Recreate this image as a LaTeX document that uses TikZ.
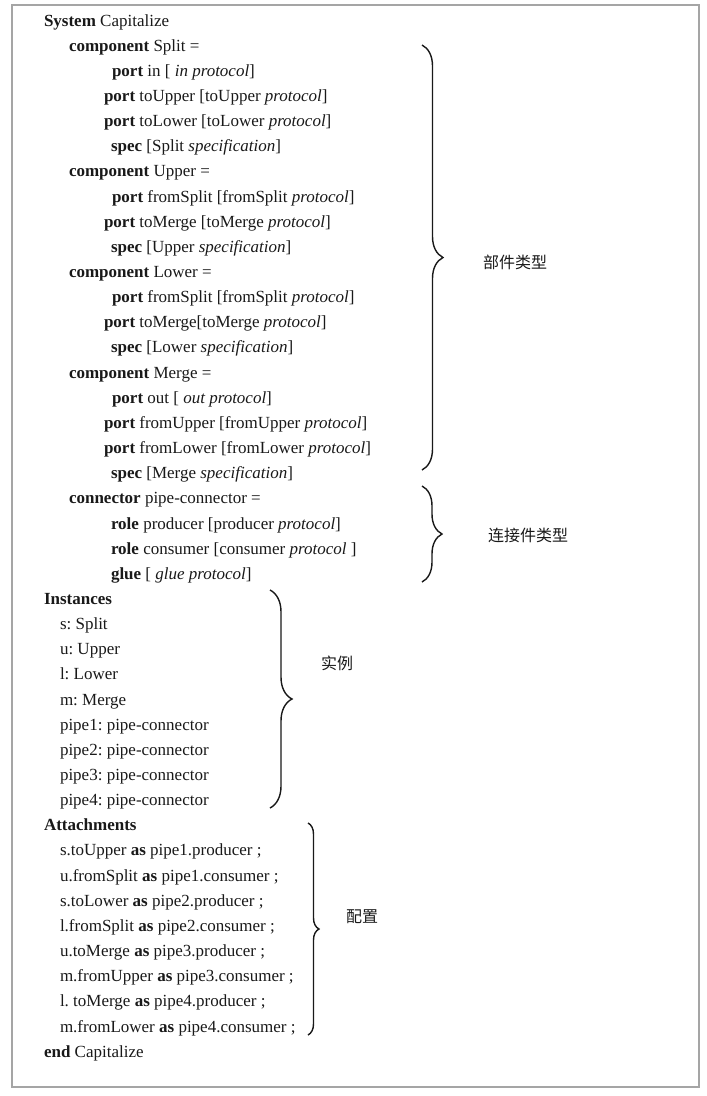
\documentclass[tikz,border=0pt]{standalone}
\usepackage{fontspec}
\setmainfont{Liberation Serif}
\newfontfamily\cjk{Noto Sans CJK SC}
\usetikzlibrary{decorations.pathreplacing}
\definecolor{framegray}{RGB}{165,165,165}
\definecolor{inkblack}{RGB}{25,25,25}
\frenchspacing
\begin{document}
\begin{tikzpicture}[x=1pt,y=-1pt,
  codeline/.style={anchor=base west,inner sep=0pt,outer sep=0pt,text=inkblack,font=\fontsize{17}{20}\selectfont\frenchspacing},
  cjklabel/.style={anchor=center,inner sep=0pt,text=inkblack,font=\cjk\fontsize{16}{18}\selectfont},
  bracepath/.style={draw=inkblack,line width=1.4pt,decorate,decoration={brace,amplitude=#1}},
  frameline/.style={draw=framegray,line width=2pt}]
\useasboundingbox (0,0) rectangle (707,1096);
\draw[frameline] (12,5) rectangle (699,1087);
% lines
\node[codeline] (l0) at (44,26) {\textbf{System} Capitalize};
\node[codeline] (l1) at (69,26+25.15*1) {\textbf{component} Split =};
\node[codeline] (l2) at (112,26+25.15*2) {\textbf{port} in [ \textit{in protocol}]};
\node[codeline] (l3) at (104,26+25.15*3) {\textbf{port} toUpper [toUpper \textit{protocol}]};
\node[codeline] (l4) at (104,26+25.15*4) {\textbf{port} toLower [toLower \textit{protocol}]};
\node[codeline] (l5) at (111,26+25.15*5) {\textbf{spec} [Split \textit{specification}]};
\node[codeline] (l6) at (69,26+25.15*6) {\textbf{component} Upper =};
\node[codeline] (l7) at (112,26+25.15*7) {\textbf{port} fromSplit [fromSplit \textit{protocol}]};
\node[codeline] (l8) at (104,26+25.15*8) {\textbf{port} toMerge [toMerge \textit{protocol}]};
\node[codeline] (l9) at (111,26+25.15*9) {\textbf{spec} [Upper \textit{specification}]};
\node[codeline] (l10) at (69,26+25.15*10) {\textbf{component} Lower =};
\node[codeline] (l11) at (112,26+25.15*11) {\textbf{port} fromSplit [fromSplit \textit{protocol}]};
\node[codeline] (l12) at (104,26+25.15*12) {\textbf{port} toMerge[toMerge \textit{protocol}]};
\node[codeline] (l13) at (111,26+25.15*13) {\textbf{spec} [Lower \textit{specification}]};
\node[codeline] (l14) at (69,26+25.15*14) {\textbf{component} Merge =};
\node[codeline] (l15) at (112,26+25.15*15) {\textbf{port} out [ \textit{out protocol}]};
\node[codeline] (l16) at (104,26+25.15*16) {\textbf{port} fromUpper [fromUpper \textit{protocol}]};
\node[codeline] (l17) at (104,26+25.15*17) {\textbf{port} fromLower [fromLower \textit{protocol}]};
\node[codeline] (l18) at (111,26+25.15*18) {\textbf{spec} [Merge \textit{specification}]};
\node[codeline] (l19) at (69,26+25.15*19) {\textbf{connector} pipe-connector =};
\node[codeline] (l20) at (111,26+25.15*20) {\textbf{role} producer [producer \textit{protocol}]};
\node[codeline] (l21) at (111,26+25.15*21) {\textbf{role} consumer [consumer \textit{protocol} ]};
\node[codeline] (l22) at (111,26+25.15*22) {\textbf{glue} [ \textit{glue protocol}]};
\node[codeline] (l23) at (44,26+25.15*23) {\textbf{Instances}};
\node[codeline] (l24) at (60,26+25.15*24) {s: Split};
\node[codeline] (l25) at (60,26+25.15*25) {u: Upper};
\node[codeline] (l26) at (60,26+25.15*26) {l: Lower};
\node[codeline] (l27) at (60,26+25.15*27) {m: Merge};
\node[codeline] (l28) at (60,26+25.15*28) {pipe1: pipe-connector};
\node[codeline] (l29) at (60,26+25.15*29) {pipe2: pipe-connector};
\node[codeline] (l30) at (60,26+25.15*30) {pipe3: pipe-connector};
\node[codeline] (l31) at (60,26+25.15*31) {pipe4: pipe-connector};
\node[codeline] (l32) at (44,26+25.15*32) {\textbf{Attachments}};
\node[codeline] (l33) at (60,26+25.15*33) {s.toUpper \textbf{as} pipe1.producer ;};
\node[codeline] (l34) at (60,26+25.15*34) {u.fromSplit \textbf{as} pipe1.consumer ;};
\node[codeline] (l35) at (60,26+25.15*35) {s.toLower \textbf{as} pipe2.producer ;};
\node[codeline] (l36) at (60,26+25.15*36) {l.fromSplit \textbf{as} pipe2.consumer ;};
\node[codeline] (l37) at (60,26+25.15*37) {u.toMerge \textbf{as} pipe3.producer ;};
\node[codeline] (l38) at (60,26+25.15*38) {m.fromUpper \textbf{as} pipe3.consumer ;};
\node[codeline] (l39) at (60,26+25.15*39) {l. toMerge \textbf{as} pipe4.producer ;};
\node[codeline] (l40) at (60,26+25.15*40) {m.fromLower \textbf{as} pipe4.consumer ;};
\node[codeline] (l41) at (44,26+25.15*41) {\textbf{end} Capitalize};
% braces
\coordinate (b1t) at (422,45);  \coordinate (b1b) at (422,470);
\coordinate (b2t) at (422,486); \coordinate (b2b) at (422,582);
\coordinate (b3t) at (270,590); \coordinate (b3b) at (270,808);
\coordinate (b4t) at (308,823); \coordinate (b4b) at (308,1035);
\draw[bracepath=21pt] (b1t) -- (b1b);
\draw[bracepath=20pt] (b2t) -- (b2b);
\draw[bracepath=22pt] (b3t) -- (b3b);
\draw[bracepath=11pt] (b4t) -- (b4b);
% labels
\node[cjklabel] (t1) at (515,262) {部件类型};
\node[cjklabel] (t2) at (528,535) {连接件类型};
\node[cjklabel] (t3) at (337,663) {实例};
\node[cjklabel] (t4) at (362,917) {配置};
\end{tikzpicture}
\end{document}
